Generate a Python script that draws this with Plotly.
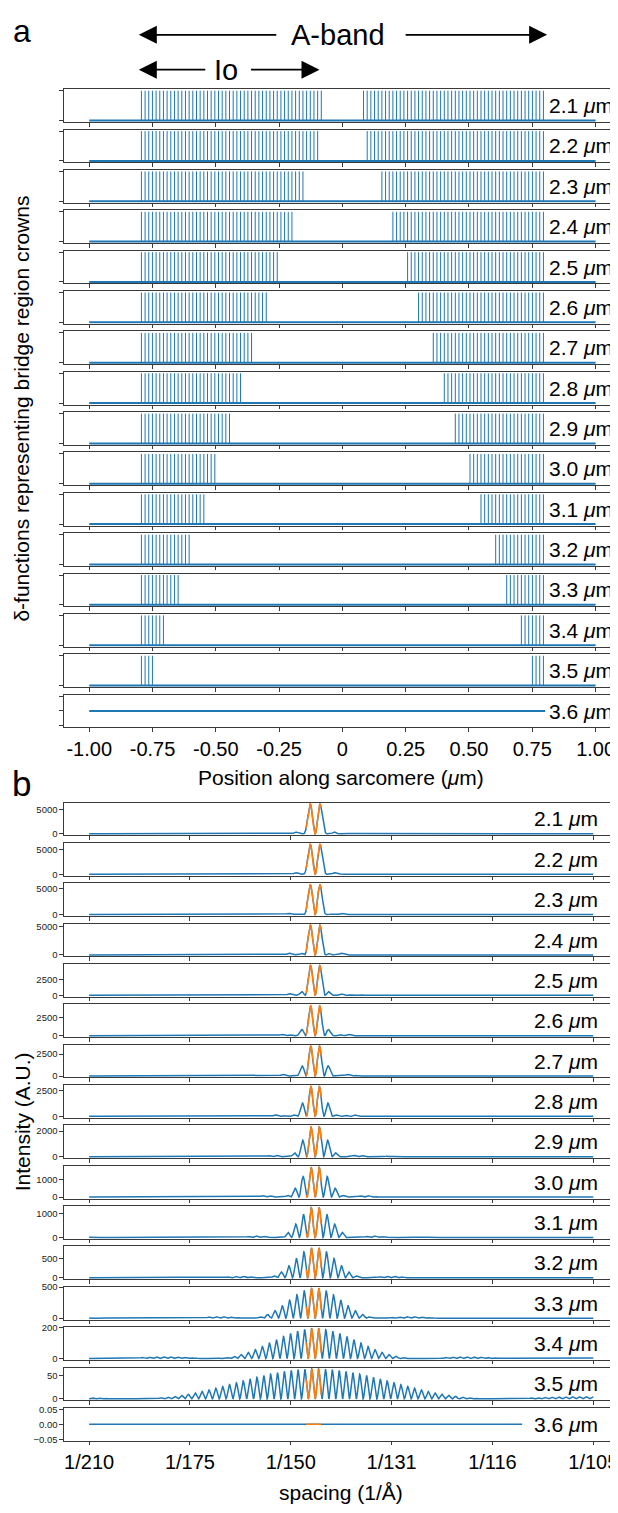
import numpy as np
import plotly.graph_objects as go

# ---------------- data ----------------
sarcomere_labels = ["2.1", "2.2", "2.3", "2.4", "2.5", "2.6", "2.7", "2.8",
                    "2.9", "3.0", "3.1", "3.2", "3.3", "3.4", "3.5", "3.6"]
# inner edge (µm) of the left overlap region (mirror on the right)
overlap_inner_edge_um = [-0.080, -0.095, -0.145, -0.195, -0.245, -0.295, -0.345, -0.395,
                         -0.445, -0.495, -0.545, -0.595, -0.645, -0.695, -0.745, -0.795]
crown_spacing_A = 145.0          # spacing of bridge-region crowns
first_crown_A = 833.75           # innermost crown distance from M-line
crowns_per_half = 50
baseline_x_um = [-1.0, 1.0]

pos_tickvals = [-1.0, -0.75, -0.5, -0.25, 0.0, 0.25, 0.5, 0.75, 1.0]
pos_ticktext = ["-1.00", "-0.75", "-0.50", "-0.25", "0", "0.25", "0.50", "0.75", "1.00"]

q_tickvals = [1/210, 1/175, 1/150, 1/131.25, 1/116.667, 1/105]
q_ticktext = ["1/210", "1/175", "1/150", "1/131", "1/116", "1/105"]
q_limits = [1/210, 1/105]
orange_q = [1/146.8, 1/143.8]

intensity_ticks = [[0, 5000]] * 4 + [[0, 2500]] * 4 + [[0, 2000], [0, 1000], [0, 1000],
                   [0, 500], [0, 500], [0, 200], [0, 50], [-0.05, 0, 0.05]]

# ---------------- geometry (page pixels) ----------------
PAGE_W, PAGE_H = 618, 1513
OFF = 8                      # default body margin of the html page
W, H = PAGE_W - OFF, PAGE_H - OFF
X_LEFT = 64
ROW_H = 33
ROW_P = 40.6
A_TOP = 84.7
B_TOP = 802.3
BLUE = "#1f77b4"
ORANGE = "#ff7f0e"
SPINE = "#3a3a3a"
FONT = "Liberation Sans, Arial, sans-serif"

def py(v):
    return 1 - (v - OFF) / H

def px(v):
    return (v - OFF) / W

a_scale = 253.6
a_range = [-1.1, -1.1 + (PAGE_W - X_LEFT) / a_scale]
b_scale = 101.0 * 1050  # px per (1/Å)
b_range = [4.75 / 1050, 4.75 / 1050 + (PAGE_W - X_LEFT) / b_scale]

fig = go.Figure()
layout = {}
shapes = []

q = np.linspace(q_limits[0], q_limits[1], 6000)
k = np.arange(crowns_per_half)
crown_pos_A = first_crown_A + k * crown_spacing_A

common_x = dict(domain=[px(X_LEFT), 1], showline=True, mirror=True, linecolor=SPINE, linewidth=1,
                ticks="outside", ticklen=3.5, tickwidth=0.8, tickcolor=SPINE,
                tickfont=dict(size=20, color="black", family=FONT), ticklabeloverflow="allow",
                showgrid=False, zeroline=False)
common_y = dict(showline=True, linecolor=SPINE, linewidth=1, ticks="outside", ticklen=3.5,
                tickwidth=0.8, tickcolor=SPINE, showgrid=False, zeroline=False)

for i, lab in enumerate(sarcomere_labels):
    edge_A = -overlap_inner_edge_um[i] * 1e4
    sel = crown_pos_A[crown_pos_A >= edge_A]
    positions_um = np.concatenate([-sel[::-1], sel]) / 1e4
    last = i == len(sarcomere_labels) - 1

    # ---- panel a ----
    na = i + 1
    xs, ys = [], []
    for p in positions_um:
        xs += [p, p, None]
        ys += [0, 1, None]
    fig.add_trace(go.Scatter(x=xs, y=ys, mode="lines", line=dict(color=BLUE, width=1),
                             xaxis=f"x{na}", yaxis=f"y{na}", showlegend=False, hoverinfo="skip"))
    fig.add_trace(go.Scatter(x=baseline_x_um, y=[0, 0], mode="lines",
                             line=dict(color=BLUE, width=2),
                             xaxis=f"x{na}", yaxis=f"y{na}", showlegend=False, hoverinfo="skip"))
    top = A_TOP + ROW_P * i
    if len(positions_um):
        yr, yt = [-0.05, 1.05], [0, 1]
    else:
        yr, yt = [-0.055, 0.055], [-0.05, 0, 0.05]
    layout[f"xaxis{na}"] = dict(common_x, anchor=f"y{na}", range=a_range,
                                tickvals=pos_tickvals, ticktext=pos_ticktext, showticklabels=last)
    layout[f"yaxis{na}"] = dict(common_y, domain=[py(top + ROW_H), py(top)], anchor=f"x{na}",
                                range=yr, tickvals=yt, showticklabels=False)

    # ---- panel b ----
    nb = i + 17
    if len(positions_um):
        x_A = np.concatenate([-sel[::-1], sel])
        F = np.cos(2 * np.pi * np.outer(q, x_A)).sum(axis=1)
        I = F ** 2
        ymax = I.max()
        yr = [-0.05 * ymax, 1.05 * ymax]
        ytt = [str(v) for v in intensity_ticks[i]]
    else:
        I = np.zeros_like(q)
        yr = [-0.055, 0.055]
        ytt = ["\u22120.05", "0.00", "0.05"]
    m = (q >= orange_q[0]) & (q <= orange_q[1])
    fig.add_trace(go.Scatter(x=q, y=I, mode="lines", line=dict(color=BLUE, width=1.5),
                             xaxis=f"x{nb}", yaxis=f"y{nb}", showlegend=False, hoverinfo="skip"))
    fig.add_trace(go.Scatter(x=q[m], y=I[m], mode="lines", line=dict(color=ORANGE, width=1.5),
                             xaxis=f"x{nb}", yaxis=f"y{nb}", showlegend=False, hoverinfo="skip"))
    top = B_TOP + ROW_P * i
    layout[f"xaxis{nb}"] = dict(common_x, anchor=f"y{nb}", range=b_range,
                                tickvals=q_tickvals, ticktext=q_ticktext, showticklabels=last)
    layout[f"yaxis{nb}"] = dict(common_y, domain=[py(top + ROW_H), py(top)], anchor=f"x{nb}",
                                range=yr, tickvals=intensity_ticks[i], ticktext=ytt,
                                showticklabels=True,
                                tickfont=dict(size=9.5, color="#222", family=FONT))

annotations = []
label_txt = lambda s: f"{s} <i>\u03bc</i>m"
for i, lab in enumerate(sarcomere_labels):
    for top0, x_right, box_left in ((A_TOP, 615, 546), (B_TOP, 600, 523)):
        yc = top0 + ROW_P * i + ROW_H / 2
        shapes.append(dict(type="rect", xref="paper", yref="paper", x0=px(box_left),
                           x1=px(min(x_right + 3, PAGE_W)), y0=py(yc + 11), y1=py(yc - 11),
                           fillcolor="white", line=dict(width=0), layer="above"))
        annotations.append(dict(xref="paper", yref="paper", x=px(x_right), y=py(yc),
                                xanchor="right", yanchor="middle", text=label_txt(lab),
                                showarrow=False, font=dict(size=21, color="black", family=FONT),
                                borderpad=0))

def txt(x, y, s, size, angle=0):
    annotations.append(dict(xref="paper", yref="paper", x=px(x), y=py(y), xanchor="center",
                            yanchor="middle", text=s, showarrow=False, textangle=angle,
                            font=dict(size=size, color="black", family=FONT)))

def arrow(x_tail, x_tip, y):
    annotations.append(dict(xref="paper", yref="paper", x=px(x_tip), y=py(y), ax=x_tail - x_tip,
                            ay=0, text="", showarrow=True, arrowhead=2, arrowsize=2.0,
                            arrowwidth=1.8, arrowcolor="black"))

txt(22, 26, "a", 32)
txt(22, 783, "b", 35)
txt(339, 30, "A-band", 29)
arrow(278, 139, 30)
arrow(405, 548, 30)
txt(226, 65, "Io", 29)
arrow(207, 139, 65)
arrow(250, 320, 65)
txt(342, 777, "Position along sarcomere (<i>\u03bc</i>m)", 21)
txt(342, 1496, "spacing (1/\u00c5)", 21)
txt(22, 406, "\u03b4-functions representing bridge region crowns", 21, -90)
txt(22, 1123, "Intensity (A.U.)", 21, -90)

fig.update_layout(width=W, height=H, margin=dict(l=0, r=0, t=0, b=0),
                  paper_bgcolor="white", plot_bgcolor="white",
                  font=dict(family=FONT), annotations=annotations, shapes=shapes, **layout)
fig.write_html("out.html")
